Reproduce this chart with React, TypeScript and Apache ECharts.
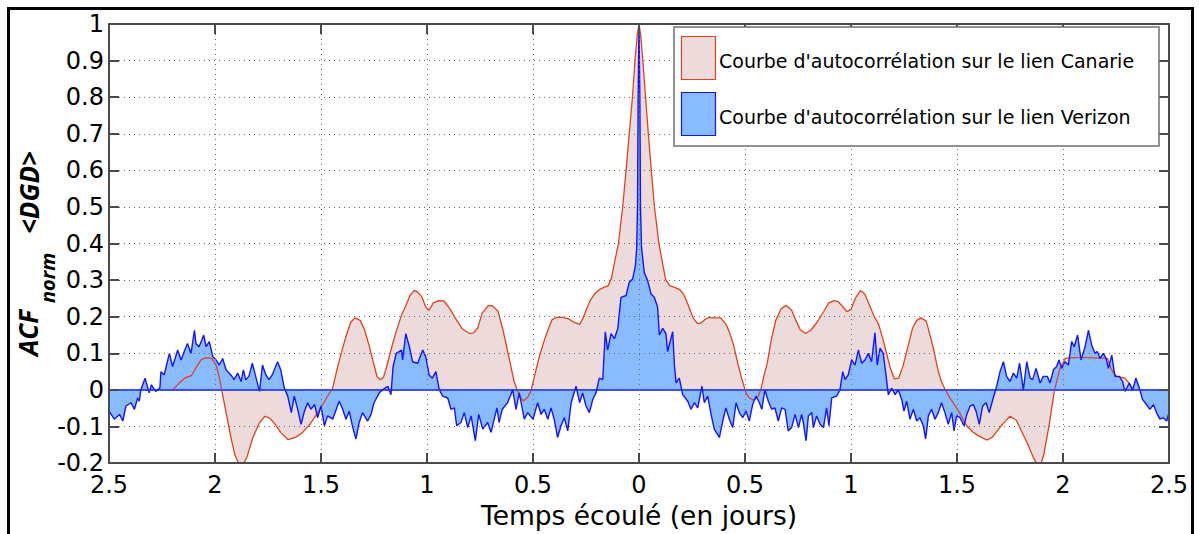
import React, { useEffect, useRef } from "react";
import * as echarts from "echarts";

// ---- Data (x in days, negative = left half; y = normalised ACF) ----
const xTickValues = [-2.5, -2, -1.5, -1, -0.5, 0, 0.5, 1, 1.5, 2, 2.5];

const canarie: number[][] = [
  [-2.2, 0.0], [-2.17, 0.018], [-2.14, 0.033], [-2.11, 0.04], [-2.085, 0.065], [-2.065, 0.083],
  [-2.04, 0.088], [-2.015, 0.086], [-1.995, 0.068], [-1.98, 0.035], [-1.965, -0.01], [-1.945, -0.07],
  [-1.925, -0.13], [-1.905, -0.18], [-1.885, -0.205], [-1.87, -0.205], [-1.85, -0.185], [-1.82, -0.128],
  [-1.79, -0.09], [-1.765, -0.072], [-1.74, -0.078], [-1.715, -0.095], [-1.69, -0.116], [-1.655, -0.136],
  [-1.62, -0.13], [-1.59, -0.118], [-1.555, -0.096], [-1.53, -0.075], [-1.5, -0.048], [-1.47, -0.018],
  [-1.445, 0.005], [-1.425, 0.055], [-1.4, 0.11], [-1.38, 0.15], [-1.36, 0.185], [-1.34, 0.197],
  [-1.315, 0.19], [-1.295, 0.165], [-1.27, 0.115], [-1.25, 0.068], [-1.235, 0.035], [-1.22, 0.028],
  [-1.205, 0.035], [-1.19, 0.064], [-1.165, 0.12], [-1.145, 0.16], [-1.12, 0.205], [-1.1, 0.23],
  [-1.08, 0.258], [-1.06, 0.272], [-1.045, 0.268], [-1.025, 0.255], [-1.005, 0.225], [-0.99, 0.218],
  [-0.97, 0.238], [-0.945, 0.244], [-0.92, 0.243], [-0.89, 0.22], [-0.865, 0.195], [-0.835, 0.168],
  [-0.8, 0.154], [-0.78, 0.156], [-0.76, 0.17], [-0.74, 0.21], [-0.71, 0.231], [-0.69, 0.229],
  [-0.665, 0.215], [-0.645, 0.172], [-0.625, 0.12], [-0.61, 0.08], [-0.59, 0.025], [-0.575, 0.0],
  [-0.56, -0.02], [-0.545, -0.03], [-0.525, -0.02], [-0.51, -0.004], [-0.49, 0.045], [-0.47, 0.091],
  [-0.45, 0.13], [-0.43, 0.163], [-0.41, 0.192], [-0.39, 0.198], [-0.36, 0.198], [-0.335, 0.195],
  [-0.31, 0.186], [-0.28, 0.179], [-0.265, 0.195], [-0.25, 0.217], [-0.23, 0.245], [-0.21, 0.262],
  [-0.185, 0.275], [-0.165, 0.28], [-0.145, 0.285], [-0.13, 0.305], [-0.115, 0.35], [-0.097, 0.4],
  [-0.077, 0.5], [-0.061, 0.6], [-0.046, 0.7], [-0.031, 0.8], [-0.019, 0.9], [-0.008, 0.97],
  [0, 1.0],
  [0.008, 0.97], [0.018, 0.9], [0.031, 0.8], [0.044, 0.7], [0.058, 0.6], [0.073, 0.5],
  [0.094, 0.4], [0.11, 0.35], [0.125, 0.303], [0.145, 0.285], [0.165, 0.281], [0.19, 0.275],
  [0.21, 0.262], [0.23, 0.235], [0.255, 0.197], [0.275, 0.182], [0.29, 0.182], [0.31, 0.192],
  [0.33, 0.198], [0.36, 0.197], [0.385, 0.197], [0.41, 0.18], [0.425, 0.16], [0.445, 0.125],
  [0.465, 0.075], [0.485, 0.03], [0.505, -0.008], [0.52, -0.022], [0.54, -0.028], [0.56, -0.02],
  [0.575, 0.002], [0.59, 0.04], [0.605, 0.073], [0.625, 0.14], [0.645, 0.19], [0.67, 0.222],
  [0.695, 0.231], [0.72, 0.218], [0.74, 0.19], [0.76, 0.165], [0.785, 0.154], [0.81, 0.163],
  [0.84, 0.185], [0.87, 0.213], [0.895, 0.238], [0.92, 0.244], [0.94, 0.241], [0.96, 0.228],
  [0.98, 0.214], [1.0, 0.22], [1.02, 0.25], [1.045, 0.272], [1.065, 0.262], [1.085, 0.235],
  [1.11, 0.2], [1.13, 0.18], [1.15, 0.14], [1.17, 0.095], [1.185, 0.06], [1.205, 0.03],
  [1.225, 0.032], [1.245, 0.065], [1.265, 0.11], [1.29, 0.168], [1.31, 0.19], [1.33, 0.197],
  [1.355, 0.188], [1.375, 0.145], [1.39, 0.11], [1.41, 0.055], [1.425, 0.025], [1.445, 0.0],
  [1.47, -0.025], [1.49, -0.042], [1.515, -0.065], [1.545, -0.098], [1.575, -0.115], [1.6, -0.125],
  [1.64, -0.137], [1.665, -0.13], [1.69, -0.112], [1.72, -0.09], [1.75, -0.072], [1.78, -0.083],
  [1.81, -0.12], [1.835, -0.15], [1.86, -0.185], [1.88, -0.205], [1.895, -0.205], [1.91, -0.175],
  [1.935, -0.095], [1.96, 0.0], [1.985, 0.057], [2.01, 0.086], [2.06, 0.088], [2.12, 0.088],
  [2.17, 0.087], [2.21, 0.086], [2.225, 0.06], [2.24, 0.045], [2.255, 0.036], [2.29, 0.033],
  [2.31, 0.02], [2.33, 0.0],
];

const verizon: number[][] = [
  [-2.5, -0.058], [-2.475, -0.08], [-2.45, -0.067], [-2.435, -0.085], [-2.42, -0.044], [-2.396, -0.035],
  [-2.38, -0.053], [-2.365, -0.022], [-2.357, -0.031], [-2.35, 0.0], [-2.33, 0.032], [-2.31, -0.008],
  [-2.3, 0.014], [-2.28, -0.004], [-2.26, 0.005], [-2.255, 0.05], [-2.24, 0.041], [-2.215, 0.1],
  [-2.2, 0.064], [-2.176, 0.109], [-2.16, 0.082], [-2.145, 0.105], [-2.13, 0.127], [-2.113, 0.1],
  [-2.097, 0.163], [-2.09, 0.127], [-2.075, 0.118], [-2.053, 0.15], [-2.042, 0.118], [-2.027, 0.132],
  [-2.01, 0.091], [-1.995, 0.082], [-1.98, 0.068], [-1.964, 0.086], [-1.948, 0.055], [-1.925, 0.041],
  [-1.91, 0.028], [-1.893, 0.046], [-1.877, 0.023], [-1.866, 0.055], [-1.855, 0.028], [-1.84, 0.037],
  [-1.824, 0.073], [-1.808, 0.037], [-1.79, -0.004], [-1.776, 0.068], [-1.76, 0.041], [-1.745, 0.028],
  [-1.73, 0.041], [-1.705, 0.077], [-1.69, 0.055], [-1.673, 0.005], [-1.657, -0.017], [-1.64, -0.062],
  [-1.626, -0.017], [-1.61, -0.053], [-1.594, -0.094], [-1.58, -0.062], [-1.563, -0.035], [-1.548, -0.053],
  [-1.53, -0.04], [-1.516, -0.076], [-1.5, -0.044], [-1.484, -0.098], [-1.469, -0.071], [-1.445, -0.08],
  [-1.414, -0.031], [-1.398, -0.053], [-1.382, -0.08], [-1.367, -0.058], [-1.35, -0.103], [-1.335, -0.134],
  [-1.32, -0.089], [-1.304, -0.062], [-1.28, -0.085], [-1.264, -0.067], [-1.25, -0.035], [-1.225, -0.008],
  [-1.21, 0.0], [-1.185, 0.01], [-1.17, -0.013], [-1.16, 0.064], [-1.145, 0.1], [-1.12, 0.109],
  [-1.115, 0.082], [-1.1, 0.154], [-1.083, 0.118], [-1.068, 0.077], [-1.044, 0.073], [-1.02, 0.109],
  [-1.006, 0.091], [-0.99, 0.041], [-0.975, 0.032],
  [-0.958, 0.05], [-0.942, 0.0], [-0.926, -0.017], [-0.902, -0.022], [-0.887, -0.053], [-0.871, -0.049],
  [-0.86, -0.098], [-0.84, -0.089], [-0.824, -0.062], [-0.808, -0.103], [-0.792, -0.071], [-0.772, -0.139],
  [-0.756, -0.067], [-0.737, -0.107], [-0.714, -0.089], [-0.698, -0.116], [-0.67, -0.049], [-0.66, -0.089],
  [-0.645, -0.053], [-0.62, -0.035], [-0.596, 0.0], [-0.58, -0.053], [-0.565, -0.008], [-0.541, -0.08],
  [-0.525, -0.062], [-0.5, -0.08], [-0.478, -0.035], [-0.462, -0.067], [-0.447, -0.053], [-0.43, -0.08],
  [-0.415, -0.049], [-0.4, -0.08], [-0.384, -0.13], [-0.368, -0.098], [-0.352, -0.076], [-0.336, -0.112],
  [-0.32, -0.035], [-0.297, 0.01], [-0.28, -0.035], [-0.266, -0.008], [-0.25, -0.044], [-0.234, -0.062],
  [-0.218, -0.026], [-0.203, -0.008], [-0.187, 0.032], [-0.171, 0.028], [-0.159, 0.159], [-0.148, 0.109],
  [-0.132, 0.154], [-0.116, 0.14], [-0.1, 0.168], [-0.085, 0.253], [-0.061, 0.258], [-0.046, 0.294],
  [-0.03, 0.303], [-0.017, 0.339], [-0.011, 0.388], [-0.007, 0.5], [-0.004, 0.8], [0, 1.0],
  [0.004, 0.8], [0.007, 0.5], [0.012, 0.388], [0.025, 0.321], [0.041, 0.298], [0.057, 0.262],
  [0.072, 0.253], [0.088, 0.226], [0.096, 0.15], [0.112, 0.168], [0.127, 0.154], [0.135, 0.105],
  [0.159, 0.159], [0.167, 0.068], [0.175, 0.019], [0.19, 0.032], [0.206, -0.013], [0.23, -0.031],
  [0.245, -0.053], [0.261, -0.035], [0.277, -0.049], [0.297, 0.01], [0.308, -0.035], [0.324, -0.017],
  [0.34, -0.067], [0.355, -0.107], [0.379, -0.13], [0.395, -0.085], [0.41, -0.049], [0.426, -0.08],
  [0.442, -0.103], [0.458, -0.035], [0.473, -0.062], [0.489, -0.076], [0.505, -0.058], [0.52, -0.085],
  [0.536, -0.04], [0.552, -0.017], [0.568, -0.035],
  [0.579, -0.053], [0.594, 0.0], [0.61, -0.031], [0.626, -0.053], [0.641, -0.049], [0.657, -0.085],
  [0.673, -0.049], [0.689, -0.053], [0.704, -0.112], [0.72, -0.103], [0.736, -0.067], [0.752, -0.103],
  [0.767, -0.067], [0.775, -0.089], [0.788, -0.139], [0.799, -0.071], [0.815, -0.062], [0.822, -0.103],
  [0.838, -0.071], [0.854, -0.094], [0.87, -0.103], [0.885, -0.049], [0.896, -0.098], [0.909, -0.022],
  [0.932, -0.017], [0.948, 0.0], [0.961, 0.05], [0.972, 0.028], [0.987, 0.041], [1.003, 0.082],
  [1.019, 0.068], [1.035, 0.109], [1.05, 0.073], [1.066, 0.082], [1.082, 0.1], [1.097, 0.077],
  [1.113, 0.156], [1.124, 0.068], [1.137, 0.114], [1.152, 0.1], [1.165, 0.041], [1.176, -0.013],
  [1.192, 0.005], [1.208, -0.013], [1.223, 0.0], [1.239, -0.026], [1.25, -0.058], [1.263, -0.031],
  [1.278, -0.08], [1.294, -0.053], [1.31, -0.085], [1.325, -0.076], [1.341, -0.098], [1.352, -0.134],
  [1.365, -0.071], [1.38, -0.053], [1.396, -0.08], [1.412, -0.062], [1.427, -0.035], [1.443, -0.062],
  [1.459, -0.094], [1.475, -0.062], [1.486, -0.112], [1.498, -0.071], [1.514, -0.076], [1.533, -0.098],
  [1.546, -0.067], [1.562, -0.044], [1.577, -0.04], [1.59, -0.058], [1.605, -0.094], [1.621, -0.044],
  [1.637, -0.035], [1.652, -0.062], [1.671, -0.022], [1.687, 0.01], [1.703, 0.05], [1.719, 0.077],
  [1.734, 0.037], [1.75, 0.023], [1.766, 0.046], [1.782, 0.032], [1.795, 0.073], [1.813, 0.0],
  [1.829, 0.077], [1.845, 0.032], [1.857, 0.028], [1.873, 0.059], [1.892, 0.019], [1.907, 0.037],
  [1.926, 0.037], [1.939, 0.019], [1.955, 0.055], [1.97, 0.064], [1.981, 0.082], [1.994, 0.059],
  [2.009, 0.077], [2.025, 0.068], [2.041, 0.132], [2.053, 0.118], [2.069, 0.15], [2.085, 0.082],
  [2.104, 0.118], [2.12, 0.163], [2.135, 0.123], [2.151, 0.1], [2.162, 0.105], [2.175, 0.086],
  [2.19, 0.1], [2.203, 0.086], [2.214, 0.059], [2.23, 0.095], [2.245, 0.037], [2.266, 0.037],
  [2.281, 0.023], [2.292, -0.004], [2.313, 0.019], [2.328, 0.0], [2.344, 0.032], [2.36, 0.005],
  [2.375, -0.026], [2.394, -0.04], [2.41, -0.053], [2.426, -0.04], [2.441, -0.062], [2.457, -0.08],
  [2.473, -0.076], [2.489, -0.085], [2.5, -0.062],
];

const seriesNames = [
  "Courbe d'autocorrélation sur le lien Canarie",
  "Courbe d'autocorrélation sur le lien Verizon",
];
const xAxisTitle = "Temps écoulé (en jours)";
const yTitleMain = "ACF";
const yTitleSub = "norm";
const yTitleTail = "<DGD>";

// ---- Styles ----
const FONT = "DejaVu Sans";
const RED_LINE = "#e2411f";
const RED_FILL = "#eddbdb";
const BLUE_LINE = "#1414ff";
const BLUE_FILL = "#88bbff";
const AXIS_COLOR = "#4a4a4a";

const fmt = (v: number) => String(parseFloat(v.toFixed(1)));

export default function App() {
  const ref = useRef<HTMLDivElement>(null);

  useEffect(() => {
    document.body.style.margin = "0";
    if (!ref.current) return;
    const chart = echarts.init(ref.current, undefined, { renderer: "svg" });

    const axisLine = { show: true, onZero: false, lineStyle: { color: AXIS_COLOR, width: 2 } };
    const axisTick = { show: true, inside: true, length: 10, lineStyle: { color: AXIS_COLOR, width: 2 } };
    const splitLine = { show: true, lineStyle: { color: "#6a6a6a", width: 1, type: [1, 4] } };

    const option: any = {
      animation: false,
      backgroundColor: "#ffffff",
      grid: { left: 109, top: 24, width: 1060, height: 444, containLabel: false },
      xAxis: [
        {
          type: "value",
          min: -2.5,
          max: 2.5,
          interval: 0.5,
          z: 10,
          name: xAxisTitle,
          nameLocation: "middle",
          nameGap: 32,
          nameTextStyle: { fontFamily: FONT, fontSize: 26.5, color: "#000" },
          axisLine,
          axisTick,
          axisLabel: {
            margin: 10,
            fontFamily: FONT,
            fontSize: 24,
            color: "#000",
            formatter: (v: number) => fmt(Math.abs(v)),
          },
          splitLine,
        },
        {
          type: "value",
          position: "top",
          min: -2.5,
          max: 2.5,
          interval: 0.5,
          z: 10,
          axisLine,
          axisTick,
          axisLabel: { show: false },
          splitLine: { show: false },
        },
      ],
      yAxis: [
        {
          type: "value",
          min: -0.2,
          max: 1,
          interval: 0.1,
          z: 10,
          axisLine,
          axisTick,
          axisLabel: {
            margin: 5,
            fontFamily: FONT,
            fontSize: 24,
            color: "#000",
            formatter: (v: number) => fmt(v),
          },
          splitLine,
        },
        {
          type: "value",
          position: "right",
          min: -0.2,
          max: 1,
          interval: 0.1,
          z: 10,
          axisLine,
          axisTick,
          axisLabel: { show: false },
          splitLine: { show: false },
        },
      ],
      series: [
        {
          name: seriesNames[0] + " (aire)",
          type: "line",
          data: canarie,
          showSymbol: false,
          symbol: "none",
          z: 2,
          lineStyle: { width: 0, opacity: 0 },
          areaStyle: { color: RED_FILL, opacity: 1 },
        },
        {
          name: seriesNames[1] + " (aire)",
          type: "line",
          data: verizon,
          showSymbol: false,
          symbol: "none",
          z: 3,
          lineStyle: { width: 0, opacity: 0 },
          areaStyle: { color: BLUE_FILL, opacity: 1 },
        },
        {
          name: seriesNames[0],
          type: "line",
          data: canarie,
          showSymbol: false,
          symbol: "none",
          z: 4,
          lineStyle: { color: RED_LINE, width: 1.3 },
        },
        {
          name: seriesNames[1],
          type: "line",
          data: verizon,
          showSymbol: false,
          symbol: "none",
          z: 5,
          lineStyle: { color: BLUE_LINE, width: 1.4 },
          markLine: {
            silent: true,
            symbol: ["none", "none"],
            label: { show: false },
            lineStyle: { color: "#3a4aff", width: 2.2, type: "solid" },
            data: [{ yAxis: 0 }],
          },
        },
      ],
      graphic: [
        {
          type: "rect",
          z: 100,
          silent: true,
          shape: { x: 8.5, y: 8.5, width: 1184, height: 600 },
          style: { fill: "none", stroke: "#000", lineWidth: 3 },
        },
        {
          type: "rect",
          z: 100,
          shape: { x: 674, y: 27, width: 485, height: 119 },
          style: { fill: "#fff", stroke: "#707070", lineWidth: 1.5 },
        },
        {
          type: "rect",
          z: 101,
          shape: { x: 681.5, y: 36.5, width: 34, height: 43 },
          style: { fill: RED_FILL, stroke: RED_LINE, lineWidth: 1.2 },
        },
        {
          type: "rect",
          z: 101,
          shape: { x: 681.5, y: 92.5, width: 34, height: 43 },
          style: { fill: BLUE_FILL, stroke: BLUE_LINE, lineWidth: 1.2 },
        },
        {
          type: "text",
          z: 101,
          x: 719,
          y: 61,
          style: {
            text: seriesNames[0],
            font: `19px "${FONT}"`,
            fill: "#000",
            align: "left",
            verticalAlign: "middle",
          },
        },
        {
          type: "text",
          z: 101,
          x: 719,
          y: 117,
          style: {
            text: seriesNames[1],
            font: `19px "${FONT}"`,
            fill: "#000",
            align: "left",
            verticalAlign: "middle",
          },
        },
        {
          type: "text",
          z: 101,
          x: 28,
          y: 356,
          rotation: Math.PI / 2,
          style: {
            text: yTitleMain,
            font: `italic bold 26px "Open Sans"`,
            fill: "#000",
            align: "left",
            verticalAlign: "middle",
          },
        },
        {
          type: "text",
          z: 101,
          x: 47,
          y: 303,
          rotation: Math.PI / 2,
          style: {
            text: yTitleSub,
            font: `italic bold 20px "Open Sans"`,
            fill: "#000",
            align: "left",
            verticalAlign: "middle",
          },
        },
        {
          type: "text",
          z: 101,
          x: 29,
          y: 234,
          rotation: Math.PI / 2,
          style: {
            text: yTitleTail,
            font: `italic bold 26px "Open Sans"`,
            fill: "#000",
            align: "left",
            verticalAlign: "middle",
          },
        },
      ],
    };

    chart.setOption(option);
    return () => chart.dispose();
  }, []);

  return <div ref={ref} style={{ width: 1199, height: 534 }} />;
}
